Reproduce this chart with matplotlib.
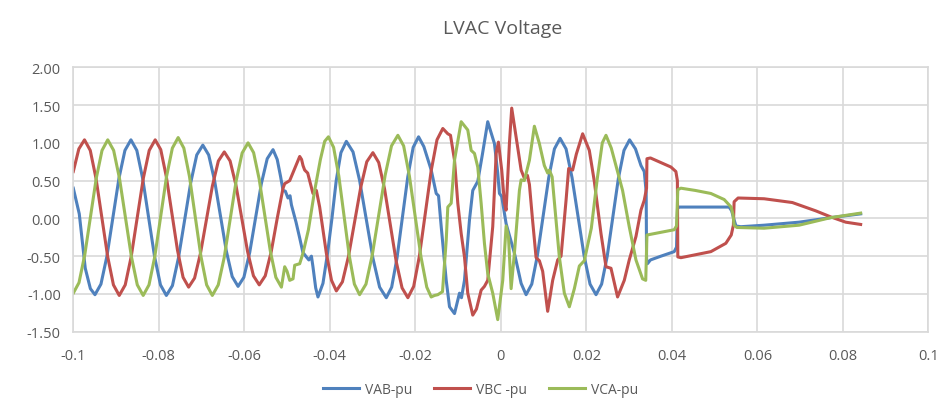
import matplotlib
matplotlib.use("Agg")
import matplotlib.pyplot as plt
import numpy as np

# time in ms, voltage in pu
vab_t = [-100.0, -98.6, -97.2, -96.0, -94.93, -93.53, -92.13, -90.72, -89.32, -87.92, -86.52, -85.14, -83.76, -82.38,
         -80.99, -79.61, -78.23, -76.81, -75.39, -73.97, -72.54, -71.12, -69.70, -68.33, -66.95, -65.58, -64.21, -62.83,
         -61.46, -60.10, -58.73, -57.37, -56.01, -54.64, -53.28, -52.3, -51.5, -50.94, -50.4, -49.78, -49.3, -48.98,
         -47.9, -47.04, -46.3, -45.48, -44.9, -44.3, -43.94, -43.3, -42.77, -41.6, -40.5, -39.5, -38.5, -37.4, -36.13,
         -34.57, -33.02, -31.46, -29.90, -28.35, -26.79, -25.53, -24.27, -23.02, -21.76, -20.50, -19.24, -18.0, -16.28,
         -15.11, -14.57, -13.94, -12.77, -12.0, -10.83, -9.67, -9.2, -8.50, -7.33, -6.56, -5.39, -4.3, -3.06, -1.49,
         -0.72, -0.32, 0.21, 1.24, 3.18, 4.75, 5.91, 7.24, 8.56, 9.89, 11.21, 12.54, 13.86, 15.26, 16.66, 18.07, 19.47,
         20.87, 22.27, 23.58, 24.89, 26.19, 27.50, 28.81, 30.12, 31.5, 32.78, 33.55, 34.0, 34.09, 34.3, 35.0, 37.45,
         40.56, 41.1, 41.33, 41.7, 53.4, 54.0, 54.57, 55.0, 56.14, 61.58, 69.76, 77.16, 84.17]
vab = [0.40, 0.06, -0.66, -0.93, -1.01, -0.87, -0.50, 0.015, 0.53, 0.90, 1.04, 0.90, 0.525, 0.01, -0.505, -0.88, -1.02,
       -0.89, -0.52, -0.025, 0.47, 0.84, 0.97, 0.84, 0.50, 0.035, -0.43, -0.77, -0.90, -0.78, -0.45, 0.005, 0.46, 0.79,
       0.91, 0.78, 0.55, 0.37, 0.36, 0.27, 0.30, 0.18, -0.05, -0.26, -0.45, -0.51, -0.55, -0.50, -0.64, -0.92, -1.04,
       -0.86, -0.45, 0.0, 0.50, 0.87, 1.02, 0.88, 0.50, -0.015, -0.53, -0.91, -1.05, -0.91, -0.52, 0.015, 0.55, 0.94,
       1.08, 0.95, 0.64, 0.33, 0.30, -0.11, -0.82, -1.17, -1.26, -0.99, -1.05, -0.82, -0.02, 0.37, 0.49, 0.85, 1.28,
       0.99, 0.60, 0.33, 0.29, -0.07, -0.46, -0.86, -1.01, -0.87, -0.49, 0.025, 0.54, 0.92, 1.06, 0.92, 0.54, 0.025,
       -0.49, -0.87, -1.01, -0.87, -0.50, 0.015, 0.53, 0.90, 1.04, 0.92, 0.70, 0.62, 0.35, -0.53, -0.60, -0.55, -0.50,
       -0.44, -0.38, 0.13, 0.15, 0.15, 0.10, -0.02, -0.10, -0.11, -0.09, -0.05, 0.01, 0.06]

vbc_t = [-100.0, -98.7, -97.38, -96.03, -94.67, -93.32, -91.96, -90.61, -89.25, -87.85, -86.45, -85.05, -83.64, -82.24,
         -80.84, -79.54, -78.23, -76.93, -75.63, -74.32, -73.02, -71.63, -70.24, -68.85, -67.46, -66.07, -64.68, -63.32,
         -61.95, -60.59, -59.23, -57.86, -56.5, -55.1, -53.7, -52.3, -50.94, -50.55, -49.38, -48.5, -47.04, -46.6,
         -46.27, -45.88, -45.17, -43.94, -43.14, -42.37, -40.81, -39.6, -38.47, -37.05, -35.62, -34.20, -32.77, -31.35,
         -29.92, -28.56, -27.19, -25.83, -24.47, -23.10, -21.74, -20.38, -19.02, -17.66, -16.29, -14.93, -13.57, -12.40,
         -11.77, -10.83, -10.06, -9.27, -8.50, -7.73, -6.56, -5.70, -4.60, -3.83, -3.06, -1.89, -1.09, -0.56, 0.21,
         0.85, 1.24, 2.01, 2.55, 3.58, 4.75, 5.52, 6.22, 6.69, 7.39, 8.25, 9.02, 9.79, 10.96, 12.13, 13.30, 14.09,
         15.26, 15.87, 16.80, 17.66, 19.14, 20.70, 21.87, 23.43, 24.60, 25.77, 27.31, 28.88, 30.04, 31.61, 32.78, 33.55,
         34.09, 34.18, 35.0, 39.79, 40.95, 41.3, 41.4, 42.12, 49.13, 52.63, 53.9, 54.4, 54.57, 55.5, 61.58, 68.19,
         73.66, 77.16, 80.67, 84.17]
vbc = [0.62, 0.92, 1.04, 0.90, 0.525, 0.01, -0.505, -0.88, -1.02, -0.88, -0.505, 0.01, 0.525, 0.90, 1.04, 0.91, 0.55,
       0.065, -0.42, -0.78, -0.91, -0.79, -0.46, -0.015, 0.43, 0.76, 0.88, 0.76, 0.44, 0.0, -0.44, -0.76, -0.88, -0.76,
       -0.44, 0.0, 0.40, 0.46, 0.50, 0.62, 0.82, 0.78, 0.70, 0.64, 0.60, 0.33, 0.37, 0.15, -0.46, -0.82, -0.96, -0.84,
       -0.50, -0.045, 0.41, 0.75, 0.87, 0.74, 0.39, -0.09, -0.57, -0.92, -1.05, -0.90, -0.49, 0.07, 0.63, 1.04, 1.19,
       1.12, 1.10, 0.77, 0.20, -0.20, -0.51, -0.99, -1.28, -1.20, -0.95, -0.90, -0.82, -0.11, 0.86, 1.01, 0.64, 0.20,
       0.11, 0.99, 1.46, 1.08, 0.64, 0.53, 0.57, 0.45, 0.0, -0.52, -0.56, -0.70, -1.23, -0.82, -0.55, -0.50, 0.24,
       0.66, 0.64, 0.85, 1.12, 0.90, 0.49, -0.20, -0.64, -0.66, -1.04, -0.82, -0.55, -0.24, 0.11, 0.24, 0.40, 0.79,
       0.80, 0.68, 0.62, 0.50, -0.51, -0.52, -0.44, -0.33, -0.22, -0.09, 0.22, 0.27, 0.26, 0.21, 0.10, 0.02, -0.05,
       -0.08]

vca_t = [-100.0, -98.66, -97.31, -95.97, -94.63, -93.28, -91.94, -90.56, -89.18, -87.80, -86.41, -85.03, -83.65,
         -82.29, -80.92, -79.56, -78.20, -76.83, -75.47, -74.14, -72.81, -71.48, -70.15, -68.81, -67.48, -66.09, -64.69,
         -63.30, -61.91, -60.51, -59.12, -57.82, -56.52, -55.22, -53.92, -52.62, -51.32, -50.55, -50.0, -49.38, -48.6,
         -48.21, -47.04, -46.27, -45.0, -43.6, -42.2, -41.2, -40.32, -39.11, -37.89, -36.68, -35.46, -34.25, -33.03,
         -31.54, -30.05, -28.55, -27.06, -25.57, -24.08, -22.73, -21.38, -20.03, -18.67, -17.32, -16.28, -15.5, -14.74,
         -13.64, -12.77, -12.40, -11.61, -10.83, -9.27, -7.73, -6.93, -6.16, -5.39, -4.60, -3.83, -3.06, -1.89, -0.72,
         0.45, 1.24, 1.8, 2.41, 3.18, 4.35, 4.75, 5.5, 6.69, 7.85, 9.02, 10.18, 10.96, 11.35, 12.0, 13.69, 14.86, 16.03,
         17.20, 18.37, 19.53, 21.17, 22.57, 23.74, 24.60, 25.84, 27.31, 28.48, 30.04, 31.61, 33.15, 33.9, 34.18, 40.56,
         41.1, 41.4, 42.12, 45.5, 49.13, 52.24, 53.87, 54.3, 54.57, 55.2, 61.58, 69.76, 77.16, 84.17]
vca = [-0.99, -0.85, -0.48, 0.025, 0.53, 0.90, 1.04, 0.90, 0.525, 0.01, -0.505, -0.88, -1.02, -0.88, -0.50, 0.025,
       0.55, 0.93, 1.07, 0.93, 0.55, 0.025, -0.50, -0.88, -1.02, -0.88, -0.515, -0.01, 0.495, 0.865, 1.00, 0.87, 0.52,
       0.045, -0.43, -0.78, -0.91, -0.64, -0.70, -0.82, -0.80, -0.62, -0.60, -0.46, -0.15, 0.35, 0.78, 1.02, 1.08,
       0.94, 0.56, 0.035, -0.49, -0.87, -1.01, -0.87, -0.48, 0.045, 0.57, 0.96, 1.10, 0.96, 0.56, 0.025, -0.51, -0.91,
       -1.04, -1.02, -1.01, -0.97, -0.29, 0.15, 0.20, 0.77, 1.28, 1.17, 0.90, 0.86, 0.68, 0.20, -0.33, -0.73, -0.99,
       -1.34, -0.82, -0.10, -0.25, -0.93, -0.46, 0.37, 0.51, 0.50, 0.77, 1.22, 0.99, 0.70, 0.60, 0.64, 0.55, -0.51,
       -0.99, -1.17, -0.93, -0.63, -0.56, -0.13, 0.53, 1.00, 1.10, 0.93, 0.62, 0.37, -0.11, -0.55, -0.80, -0.82, -0.22,
       -0.15, -0.10, 0.38, 0.40, 0.37, 0.33, 0.25, 0.15, 0.05, -0.09, -0.12, -0.13, -0.09, 0.01, 0.07]

x_ticks = [-0.1, -0.08, -0.06, -0.04, -0.02, 0, 0.02, 0.04, 0.06, 0.08, 0.1]
x_labels = ['-0.1', '-0.08', '-0.06', '-0.04', '-0.02', '0', '0.02', '0.04', '0.06', '0.08', '0.1']
y_ticks = [-1.5, -1.0, -0.5, 0.0, 0.5, 1.0, 1.5, 2.0]

plt.rcParams['font.family'] = ['Open Sans', 'DejaVu Sans']
txt = '#595959'
grid = '#d9d9d9'

fig = plt.figure(figsize=(9.42, 4.10), dpi=100)
ax = fig.add_axes([0.0778, 0.1885, 0.9077, 0.6449])

ax.plot(np.array(vab_t) / 1000, vab, color='#4F81BD', lw=2.2, label='VAB-pu', solid_joinstyle='round')
ax.plot(np.array(vbc_t) / 1000, vbc, color='#C0504D', lw=2.2, label='VBC -pu', solid_joinstyle='round')
ax.plot(np.array(vca_t) / 1000, vca, color='#9BBB59', lw=2.2, label='VCA-pu', solid_joinstyle='round')

ax.set_xlim(-0.1, 0.1)
ax.set_ylim(-1.5, 2.0)
ax.set_xticks(x_ticks)
ax.set_xticklabels(x_labels)
ax.set_yticks(y_ticks)
ax.set_yticklabels(['%.2f' % v for v in y_ticks])
ax.tick_params(length=0, labelsize=10.5, colors=txt, pad=9)
ax.tick_params(axis='x', pad=12)
ax.grid(True, color=grid, lw=1.2)
ax.set_axisbelow(True)
for s in ax.spines.values():
    s.set_color(grid)
    s.set_linewidth(1.2)

fig.text(0.534, 0.93, 'LVAC Voltage', ha='center', va='center', fontsize=14, color=txt)
fig.legend(loc='center', bbox_to_anchor=(0.51, 0.048), ncol=3, frameon=False, fontsize=10,
           handlelength=2.6, columnspacing=1.6, handletextpad=0.4, labelcolor=txt)

fig.savefig('out.png', dpi=100)
